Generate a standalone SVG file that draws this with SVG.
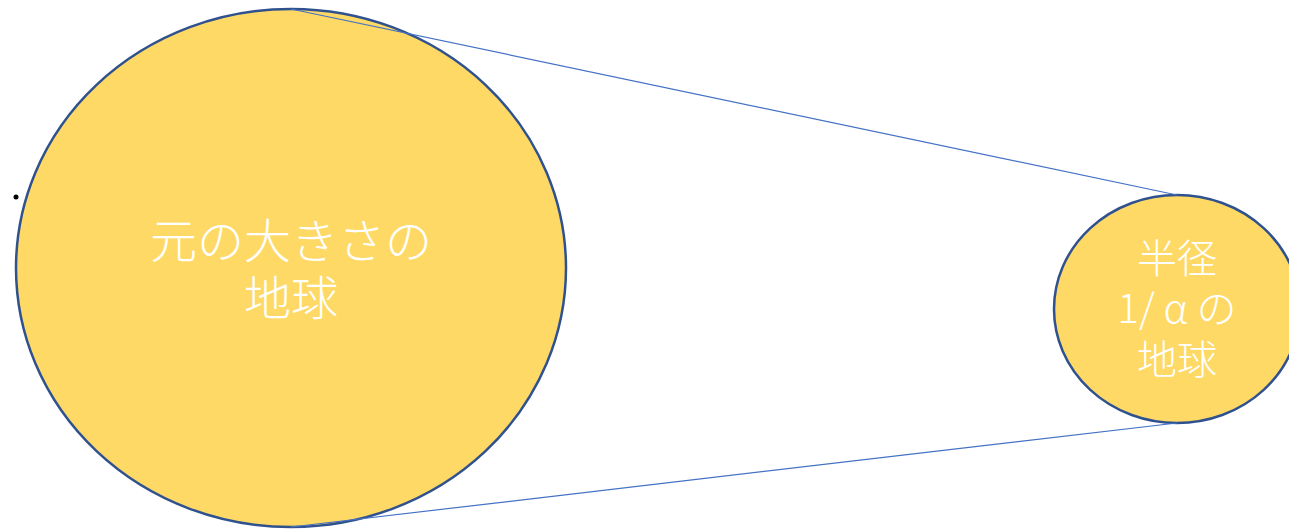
<svg xmlns="http://www.w3.org/2000/svg" width="1289" height="531" viewBox="0 0 1289 531">
<style>
.e{fill:#FFD966;stroke:#2F528F;stroke-width:2.5}
.c{stroke:#4472C4;stroke-width:1.2;fill:none}
.t{fill:#FFFFFF;font-family:"Noto Sans CJK JP","Noto Sans",sans-serif;font-weight:300;text-anchor:middle}
</style>
<rect width="1289" height="531" fill="#FFFFFF"/>
<g id="earth-original">
<ellipse class="e" cx="291" cy="268" rx="275" ry="259"/>
<text class="t" font-size="47"><tspan x="291" y="258">元の大きさの</tspan><tspan x="291" y="315">地球</tspan></text>
</g>
<g id="earth-small">
<ellipse class="e" cx="1177" cy="309" rx="123" ry="114"/>
<text class="t" font-size="40"><tspan x="1177" y="273">半径</tspan><tspan x="1177" y="323">1/ α の</tspan><tspan x="1177" y="374">地球</tspan></text>
</g>
<g id="connectors">
<line class="c" x1="291" y1="9" x2="1177" y2="195"/>
<line class="c" x1="291" y1="527" x2="1177" y2="423"/>
</g>
<circle cx="16" cy="197" r="2.5" fill="#000000"/>
</svg>
